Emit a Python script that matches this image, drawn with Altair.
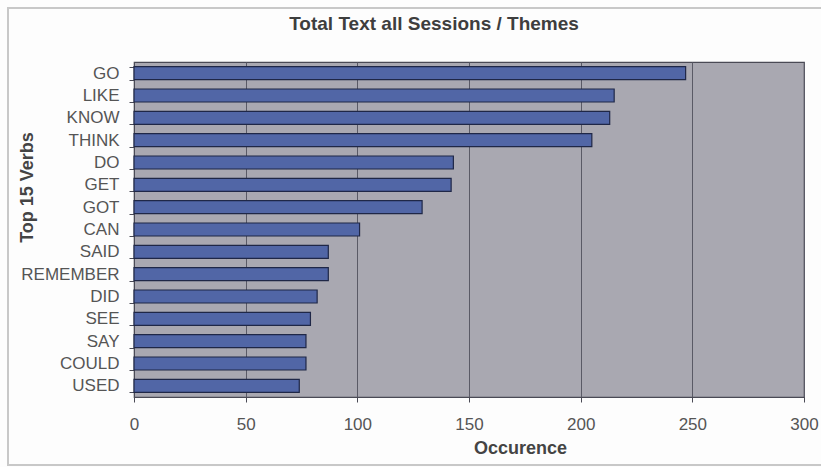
import altair as alt
import pandas as pd

# Top 15 verbs and how often each occurs across all sessions / themes
verbs = ["GO", "LIKE", "KNOW", "THINK", "DO", "GET", "GOT", "CAN",
         "SAID", "REMEMBER", "DID", "SEE", "SAY", "COULD", "USED"]
counts = [247, 215, 213, 205, 143, 142, 129, 101, 87, 87, 82, 79, 77, 77, 74]

df = pd.DataFrame({"verb": verbs, "count": counts})

PLOT_W, PLOT_H = 670, 335
FONT = "Liberation Sans"
FRAME_TOP = 8 - 62  # outer frame top, relative to the plot area

bars = alt.Chart(df).mark_bar(
    color="#5166a6", stroke="#1f2747", strokeWidth=1.2
).encode(
    x=alt.X(
        "count:Q",
        scale=alt.Scale(domain=[0, 300], nice=False),
        axis=alt.Axis(
            values=[0, 50, 100, 150, 200, 250, 300],
            title="Occurence",
            titleX=386, titleY=42, titleAnchor="middle",
            titleAlign="center", titleBaseline="top",
            grid=True, gridColor="#5a5a66", gridWidth=1,
            domainColor="#4a4a55", tickColor="#4a4a55", tickSize=5,
            labelPadding=14, labelFlush=False,
        ),
    ),
    y=alt.Y(
        "verb:N",
        sort=verbs,
        scale=alt.Scale(paddingInner=0.42, paddingOuter=0.21),
        axis=alt.Axis(
            title="Top 15 Verbs",
            titleX=-98, titleY=125, titleAngle=270,
            titleAlign="center", titleBaseline="bottom",
            tickBand="extent", grid=False,
            domainColor="#4a4a55", tickColor="#4a4a55", tickSize=5,
            labelPadding=10,
        ),
    ),
)

# light outer frame around the whole chart area
frame = alt.Chart(df).mark_rect(
    fill=None, stroke="#c8c8c8", strokeWidth=1.5
).encode(
    x=alt.value(8 - 134), x2=alt.value(840 - 134),
    y=alt.value(FRAME_TOP), y2=alt.value(465 - 62),
)

chart = alt.layer(frame, bars).properties(
    width=PLOT_W,
    height=PLOT_H,
    title=alt.Title(
        "Total Text all Sessions / Themes",
        anchor="middle", frame="group", dx=-35, offset=0,
        dy=-FRAME_TOP - 8,
        baseline="bottom",
        fontSize=19, fontWeight="bold", color="#3e3e3e", font=FONT,
    ),
    autosize=alt.AutoSizeParams(type="none"),
    padding={"left": 134, "top": 62, "right": 17, "bottom": 70},
).configure(
    background="#fdfdfd",
    font=FONT,
).configure_view(
    fill="#a9a8b1", stroke="#4a4a55", strokeWidth=1.2,
).configure_axis(
    labelFont=FONT, labelFontSize=17, labelColor="#555555",
    titleFont=FONT, titleFontSize=18, titleFontWeight="bold",
    titleColor="#444444",
)

chart.save("out.html", embed_options={"renderer": "svg", "actions": False})
